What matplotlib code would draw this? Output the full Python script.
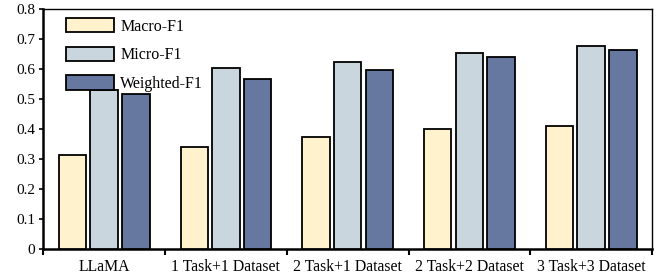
import numpy as np
import matplotlib
matplotlib.use("Agg")
import matplotlib.pyplot as plt

categories = ["LLaMA", "1 Task+1 Dataset", "2 Task+1 Dataset", "2 Task+2 Dataset", "3 Task+3 Dataset"]
macro_f1 = [0.314, 0.342, 0.373, 0.399, 0.410]
micro_f1 = [0.529, 0.603, 0.623, 0.654, 0.677]
weighted_f1 = [0.517, 0.568, 0.597, 0.640, 0.664]

series = [
    ("Macro-F1", macro_f1, "#FFF2CC"),
    ("Micro-F1", micro_f1, "#C9D6DD"),
    ("Weighted-F1", weighted_f1, "#66789F"),
]

plt.rcParams["font.family"] = ["Liberation Serif", "DejaVu Serif"]

fig = plt.figure(figsize=(6.56, 2.77), dpi=100)
ax = fig.add_axes([0.066, 0.1, 0.928, 0.8675])

x = np.arange(len(categories))
width = 0.225
step = 0.26
for k, (name, vals, color) in enumerate(series):
    ax.bar(x + (k - 1) * step, vals, width, color=color, edgecolor="black",
           linewidth=1.3, label=name, zorder=3)

ax.set_xlim(-0.5, len(categories) - 0.5)
ax.set_ylim(0, 0.8)
ax.set_yticks(np.arange(0, 0.81, 0.1))
ax.set_yticklabels(["0"] + [f"{v:.1f}" for v in np.arange(0.1, 0.81, 0.1)])
ax.tick_params(axis="y", labelsize=11, length=3, width=1.2, direction="out", pad=3)

# category labels centred, tick marks at group boundaries
ax.set_xticks(x)
ax.set_xticklabels(categories, fontsize=11.3)
ax.tick_params(axis="x", which="major", length=0, pad=7)
ax.set_xticks(np.arange(-0.5, len(categories)), minor=True)
ax.tick_params(axis="x", which="minor", length=4, width=1.5, direction="out")

for side in ["left", "bottom"]:
    ax.spines[side].set_linewidth(1.8)
for side in ["top", "right"]:
    ax.spines[side].set_linewidth(1.0)

ax.legend(loc="upper left", bbox_to_anchor=(0.016, 1.015), frameon=False,
          fontsize=11.5, handlelength=3.0, handleheight=1.0,
          labelspacing=0.75, handletextpad=0.4, borderpad=0.3)

fig.savefig("out.png", dpi=100)
